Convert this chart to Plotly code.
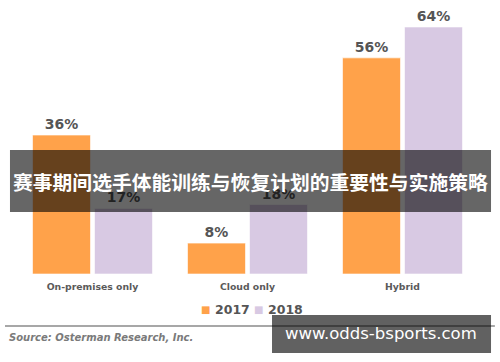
import plotly.graph_objects as go

categories = ["On-premises only", "Cloud only", "Hybrid"]
values_2017 = [36, 8, 56]
values_2018 = [17, 18, 64]
series_names = ["2017", "2018"]
title_text = "赛事期间选手体能训练与恢复计划的重要性与实施策略"
source_text = "Source: Osterman Research, Inc."
watermark_text = "www.odds-bsports.com"

ORANGE = "#FFA24A"
PURPLE = "#D8C9E3"
LABEL = "#555555"
colors = [ORANGE, PURPLE]

fig = go.Figure()
for name, vals, col in zip(series_names, [values_2017, values_2018], colors):
    fig.add_trace(go.Bar(
        x=categories, y=vals, name=name,
        marker=dict(color=col, line=dict(color="rgba(255,255,255,0.6)", width=1)),
        texttemplate="%{y}%", textposition="outside",
        textfont=dict(family="DejaVu Sans", size=14, color=LABEL, weight="bold"),
        cliponaxis=False,
    ))

fig.update_layout(
    width=500, height=362,
    margin=dict(l=15, r=20, t=10, b=88),
    paper_bgcolor="white", plot_bgcolor="white",
    barmode="group", bargap=0.2, bargroupgap=0.065,
    showlegend=False,
    xaxis=dict(showgrid=False, showline=False, ticks="", ticklabelstandoff=6,
               tickfont=dict(family="DejaVu Sans", size=9.3, color="#5a5a5a", weight="bold")),
    yaxis=dict(range=[0, 68.4], visible=False, showgrid=False),
)

# legend (compact, like the reference)
leg_y = -0.133
leg_x = [(213 - 15) / 465, (266 - 15) / 465]
for name, col, lx in zip(series_names, colors, leg_x):
    fig.add_annotation(text="■", xref="paper", yref="paper", x=lx - 0.003, y=leg_y,
                       xanchor="right", yanchor="middle", showarrow=False,
                       font=dict(family="DejaVu Sans", size=10, color=col))
    fig.add_annotation(text="<b>" + name + "</b>", xref="paper", yref="paper", x=lx, y=leg_y,
                       xanchor="left", yanchor="middle", showarrow=False,
                       font=dict(family="DejaVu Sans", size=12.5, color=LABEL))

# separator line
fig.add_shape(type="line", xref="paper", yref="paper",
              x0=-0.0215, x1=1.032, y0=-0.197, y1=-0.197,
              line=dict(color="#8a8a8a", width=1.5))

fig.add_annotation(text="<b><i>" + source_text + "</i></b>", xref="paper", yref="paper",
                   x=-0.017, y=-0.242, xanchor="left", yanchor="middle", showarrow=False,
                   font=dict(family="DejaVu Sans", size=10, color="#7a7a7a"))

# title banner
fig.add_shape(type="rect", xref="paper", yref="paper", layer="above",
              x0=-0.0108, x1=1.0237, y0=0.2348, y1=0.4697,
              fillcolor="rgba(0,0,0,0.6)", line=dict(width=0))
fig.add_annotation(text="<b>" + title_text + "</b>", xref="paper", yref="paper",
                   x=(250 - 15) / 465, y=0.3485, xanchor="center", yanchor="middle",
                   showarrow=False,
                   font=dict(family="Noto Sans CJK SC", size=19.8, color="white"))

# watermark
fig.add_shape(type="rect", xref="paper", yref="paper", layer="above",
              x0=0.5527, x1=1.0237, y0=-0.1553, y1=-0.2992,
              fillcolor="rgba(0,0,0,0.62)", line=dict(width=0))
fig.add_annotation(text=watermark_text, xref="paper", yref="paper",
                   x=0.787, y=-0.227, xanchor="center", yanchor="middle", showarrow=False,
                   font=dict(family="DejaVu Sans", size=16.5, color="white"))

fig.write_html("out.html", config={"displayModeBar": False, "staticPlot": True},
               post_script="document.body.style.margin='0';document.body.style.overflow='hidden';")
